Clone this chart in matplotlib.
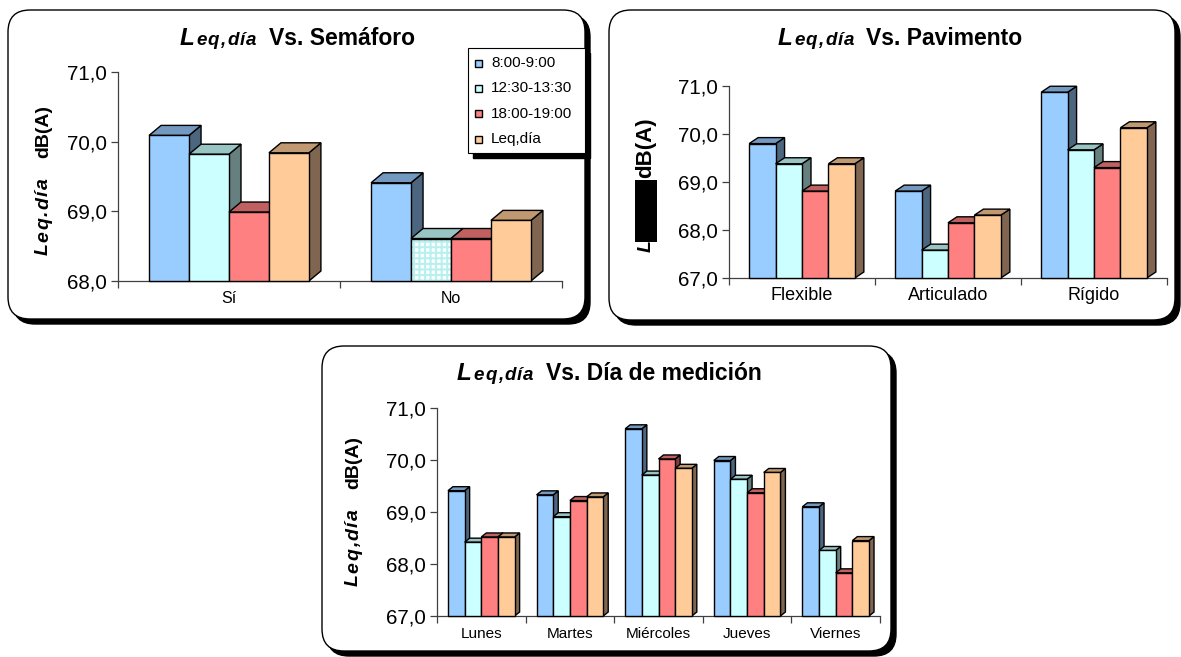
import matplotlib
matplotlib.use("Agg")
import matplotlib.pyplot as plt
from matplotlib.patches import FancyBboxPatch, Rectangle, Polygon
from matplotlib.transforms import IdentityTransform

plt.rcParams['font.family'] = ['Liberation Sans', 'DejaVu Sans']
plt.rcParams['hatch.linewidth'] = 1.5

W, H = 1181, 657

# ---- data -------------------------------------------------------------
series_labels = ['8:00-9:00', '12:30-13:30', '18:00-19:00', 'Leq,día']

semaforo_cats = ['Sí', 'No']
semaforo_manana = [70.09, 69.41]
semaforo_mediodia = [69.82, 68.61]
semaforo_tarde = [68.99, 68.61]
semaforo_leq = [69.84, 68.87]

pavimento_cats = ['Flexible', 'Articulado', 'Rígido']
pavimento_manana = [69.80, 68.81, 70.87]
pavimento_mediodia = [69.38, 67.58, 69.67]
pavimento_tarde = [68.81, 68.15, 69.30]
pavimento_leq = [69.38, 68.31, 70.13]

dia_cats = ['Lunes', 'Martes', 'Miércoles', 'Jueves', 'Viernes']
dia_manana = [69.41, 69.33, 70.60, 69.99, 69.10]
dia_mediodia = [68.42, 68.91, 69.71, 69.63, 68.26]
dia_tarde = [68.52, 69.22, 70.02, 69.37, 67.83]
dia_leq = [68.52, 69.29, 69.84, 69.76, 68.45]

semaforo_yticks = [68, 69, 70, 71]
semaforo_yticklabels = ['68,0', '69,0', '70,0', '71,0']
yticks_67 = [67, 68, 69, 70, 71]
yticklabels_67 = ['67,0', '68,0', '69,0', '70,0', '71,0']

# ---- style ------------------------------------------------------------
face_colors = ['#99CCFF', '#CCFFFF', '#FF8080', '#FFCC99']
top_colors = ['#7399C0', '#99C4C4', '#C06060', '#C09973']
side_colors = ['#4D6680', '#668080', '#804040', '#806650']
AXIS_COLOR = '#404040'

fig = plt.figure(figsize=(W / 100, H / 100), dpi=100)
PIX = IdentityTransform()


def rounded_panel(x0, y0, x1, y1, r=22, shadow=5):
    style = f"round,pad=0,rounding_size={r}"
    sh = FancyBboxPatch((x0 + shadow, H - y1 - shadow), x1 - x0, y1 - y0,
                        boxstyle=style, transform=PIX, fc='black', ec='black',
                        lw=1, zorder=-2)
    bx = FancyBboxPatch((x0, H - y1), x1 - x0, y1 - y0, boxstyle=style,
                        transform=PIX, fc='white', ec='black', lw=1, zorder=-1)
    fig.add_artist(sh)
    fig.add_artist(bx)


def text_run(cx, cy, pieces, vertical=False):
    """Lay out text pieces one after another, centred on (cx, cy) in pixels
    measured from the top-left corner. Each piece: (text, fontkw, tracking, gap).
    For vertical runs cx is the baseline and the text reads bottom to top."""
    r = fig.canvas.get_renderer()

    def width(s, kw):
        if not s:
            return 0.0
        t = fig.text(0, 0, s, transform=PIX, **kw)
        w = t.get_window_extent(r).width
        t.remove()
        return w

    laid = []
    total = 0.0
    for s, kw, track, gap in pieces:
        if track:
            offs = [width(s[:k], kw) + k * track for k in range(len(s))]
            chars = list(s)
            wpiece = width(s, kw) + (len(s) - 1) * track
        else:
            offs = [0.0]
            chars = [s]
            wpiece = width(s, kw)
        laid.append((chars, offs, kw, total))
        total += wpiece + gap
    total -= pieces[-1][3]

    for chars, offs, kw, start in laid:
        for c, o in zip(chars, offs):
            if vertical:
                fig.text(cx, (H - cy) - total / 2 + start + o, c, transform=PIX,
                         rotation=90, rotation_mode='anchor', ha='left',
                         va='baseline', **kw)
            else:
                fig.text(cx - total / 2 + start + o, H - cy, c, transform=PIX,
                         ha='left', va='baseline', **kw)


def bar_chart(box, cats, series, ylim, yticks, yticklabels, depth, bar_w,
              cat_size, cat_pad, patterned=()):
    x0, x1, ytop, ybot = box
    ax = fig.add_axes([x0 / W, 1 - ybot / H, (x1 - x0) / W, (ybot - ytop) / H])
    ax.patch.set_visible(False)
    n = len(cats)
    ax.set_xlim(0, n)
    ax.set_ylim(*ylim)
    ddx = depth[0] * n / (x1 - x0)
    ddy = depth[1] * (ylim[1] - ylim[0]) / (ybot - ytop)
    base = ylim[0]
    ns = len(series)
    for i in range(n):
        for j, vals in enumerate(series):
            v = vals[i]
            xl = i + 0.5 - ns * bar_w / 2 + j * bar_w
            xr = xl + bar_w
            ax.add_patch(Polygon([(xr, base), (xr + ddx, base + ddy),
                                  (xr + ddx, v + ddy), (xr, v)], closed=True,
                                 fc=side_colors[j], ec='black', lw=1,
                                 clip_on=False, joinstyle='miter'))
            ax.add_patch(Polygon([(xl, v), (xr, v), (xr + ddx, v + ddy),
                                  (xl + ddx, v + ddy)], closed=True,
                                 fc=top_colors[j], ec='black', lw=1,
                                 clip_on=False, joinstyle='miter'))
            if (i, j) in patterned:
                ax.add_patch(Rectangle((xl, base), bar_w, v - base, fc='white',
                                       ec='#B8F0F0', hatch='+++', lw=0,
                                       clip_on=False))
                ax.add_patch(Rectangle((xl, base), bar_w, v - base, fc='none',
                                       ec='black', lw=1, clip_on=False,
                                       joinstyle='miter'))
            else:
                ax.add_patch(Rectangle((xl, base), bar_w, v - base,
                                       fc=face_colors[j], ec='black', lw=1,
                                       clip_on=False, joinstyle='miter'))

    for s in ('top', 'right'):
        ax.spines[s].set_visible(False)
    for s in ('left', 'bottom'):
        ax.spines[s].set_color(AXIS_COLOR)
        ax.spines[s].set_linewidth(0.9)
        ax.spines[s].set_zorder(0.5)

    ax.set_yticks(yticks)
    ax.set_yticklabels(yticklabels)
    ax.tick_params(axis='y', length=5, width=0.9, color=AXIS_COLOR, pad=3,
                   labelsize=14.8)
    ax.set_xticks(range(n + 1))
    ax.set_xticklabels([])
    ax.tick_params(axis='x', which='major', length=5, width=0.9,
                   color=AXIS_COLOR)
    ax.set_xticks([i + 0.5 for i in range(n)], minor=True)
    ax.set_xticklabels(cats, minor=True)
    ax.tick_params(axis='x', which='minor', length=0, pad=cat_pad,
                   labelsize=cat_size)
    return ax


# ---- panels -----------------------------------------------------------
rounded_panel(8, 10, 585, 319)
rounded_panel(609, 10, 1175, 320)
rounded_panel(322, 346, 891, 651)

bar_chart((118, 562, 72, 281), semaforo_cats,
          [semaforo_manana, semaforo_mediodia, semaforo_tarde, semaforo_leq],
          (68, 71), semaforo_yticks, semaforo_yticklabels, (12, 10), 0.18,
          11.5, 7, patterned={(1, 1)})
bar_chart((729, 1167, 86, 278), pavimento_cats,
          [pavimento_manana, pavimento_mediodia, pavimento_tarde, pavimento_leq],
          (67, 71), yticks_67, yticklabels_67, (9, 6), 0.181, 13, 6.5)
bar_chart((437, 880, 408, 616), dia_cats,
          [dia_manana, dia_mediodia, dia_tarde, dia_leq],
          (67, 71), yticks_67, yticklabels_67, (5, 4), 0.188, 11, 8)

# ---- titles -----------------------------------------------------------
bi = dict(fontweight='bold', fontstyle='italic')
b = dict(fontweight='bold')


def title(cx, base, rest):
    text_run(cx, base, [('L', dict(fontsize=17.5, **bi), 0, 2),
                        ('eq,día', dict(fontsize=13.5, **bi), 1.2, 12),
                        (rest, dict(fontsize=16.5, **b), 0, 0)])


title(297, 45, 'Vs. Semáforo')
title(900, 45, 'Vs. Pavimento')
title(609, 380, 'Vs. Día de medición')

# ---- y-axis titles ----------------------------------------------------
text_run(48, 180, [('Leq.día', dict(fontsize=14, **bi), 1.5, 20),
                   ('dB(A)', dict(fontsize=14, **b), 0, 0)], vertical=True)
text_run(358, 511, [('Leq,día', dict(fontsize=14, **bi), 1.5, 20),
                    ('dB(A)', dict(fontsize=14, **b), 0, 0)], vertical=True)
text_run(651, 185, [('Leq,día', dict(fontsize=14, **bi), 0, 6),
                    ('dB(A)', dict(fontsize=16, **b), 0, 0)], vertical=True)
fig.add_artist(Rectangle((635, H - 242), 22, 62, transform=PIX, fc='black',
                         ec='black', lw=0, zorder=10))

# ---- legend -----------------------------------------------------------
lx0, ly0, lx1, ly1 = 468, 48, 585, 153
fig.add_artist(Rectangle((lx0 + 5, H - ly1 - 5), lx1 - lx0, ly1 - ly0,
                         transform=PIX, fc='black', ec='black', lw=1, zorder=4))
fig.add_artist(Rectangle((lx0, H - ly1), lx1 - lx0, ly1 - ly0, transform=PIX,
                         fc='white', ec='black', lw=0.8, zorder=5))
for k, lab in enumerate(series_labels):
    yc = 63 + k * 25.4
    fig.add_artist(Rectangle((475, H - yc - 3.5), 7, 7, transform=PIX,
                             fc=face_colors[k], ec='black', lw=1, zorder=6))
    fig.text(491, H - yc, lab, transform=PIX, ha='left', va='center',
             fontsize=11, zorder=6)

fig.savefig('out.png', dpi=100)
